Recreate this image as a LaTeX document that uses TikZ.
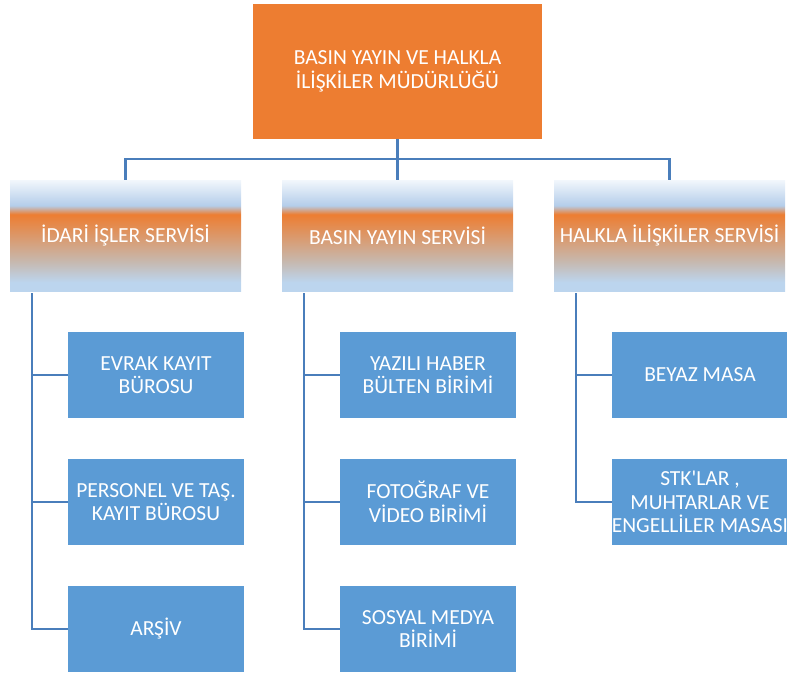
\documentclass[tikz,border=0pt]{standalone}
\usepackage{fontspec}
\setmainfont{Carlito}
\definecolor{topor}{HTML}{ED7D31}
\definecolor{chbl}{HTML}{5B9BD5}
\definecolor{lnbl}{HTML}{4A7EBB}
\definecolor{gtop}{HTML}{F2F7FC}
\definecolor{gblue}{HTML}{B4CDEA}
\definecolor{gtan}{HTML}{C6B9B0}
\definecolor{gbot}{HTML}{BCD5EE}
\pgfdeclareverticalshading{svcshade}{100bp}{color(0bp)=(gbot); color(25bp)=(gbot); color(29bp)=(gbot); color(38bp)=(gtan); color(59.5bp)=(topor); color(63.5bp)=(gblue); color(75bp)=(gtop); color(100bp)=(gtop)}
\tikzset{
  txt/.style={text=white, align=center, font=\fontsize{21.5}{23.5}\selectfont, inner sep=0pt},
  headbox/.style={txt, fill=topor, minimum width=289pt, minimum height=135pt},
  svcbox/.style={txt, shading=svcshade, minimum width=231pt, minimum height=111pt},
  childbox/.style={txt, fill=chbl, minimum width=176pt, minimum height=86pt},
  conn/.style={draw=lnbl, line width=2.5pt}
}
\begin{document}
\begin{tikzpicture}[x=1pt,y=-1pt]
\useasboundingbox (0,0) rectangle (787,672);
\node[headbox] (head) at (397.5,71.5) {BASIN YAYIN VE HALKLA\\İLİŞKİLER MÜDÜRLÜĞÜ};
\node[svcbox] (s1) at (125.5,235.5) {İDARİ İŞLER SERVİSİ};
\node[svcbox] (s2) at (397.5,235.5) {BASIN YAYIN SERVİSİ};
\node[svcbox] (s3) at (669.5,235.5) {HALKLA İLİŞKİLER SERVİSİ};
\node[childbox] (c11) at (156,375) {EVRAK KAYIT\\BÜROSU};
\node[childbox] (c12) at (156,502) {PERSONEL VE TAŞ.\\KAYIT BÜROSU};
\node[childbox] (c13) at (156,629) {ARŞİV};
\node[childbox] (c21) at (428,375) {YAZILI HABER\\BÜLTEN BİRİMİ};
\node[childbox] (c22) at (428,502) {FOTOĞRAF VE\\VİDEO BİRİMİ};
\node[childbox] (c23) at (428,629) {SOSYAL MEDYA\\BİRİMİ};
\node[childbox] (c31) at (700,375) {BEYAZ MASA};
\node[childbox] (c32) at (700,502) {STK\textquotesingle LAR ,\\MUHTARLAR VE\\ENGELLİLER MASASI};
\coordinate (bus) at (0,159);
\coordinate (t1) at (32,293);
\coordinate (t2) at (304,293);
\coordinate (t3) at (576,293);
\draw[conn] (head.south) -- (s2.north);
\draw[conn] (s1.north) -- (s1.north |- bus) -- (s3.north |- bus) -- (s3.north);
\draw[conn] (t1) |- (c13.west);
\draw[conn] (c11.west) -- (c11.west -| t1);
\draw[conn] (c12.west) -- (c12.west -| t1);
\draw[conn] (t2) |- (c23.west);
\draw[conn] (c21.west) -- (c21.west -| t2);
\draw[conn] (c22.west) -- (c22.west -| t2);
\draw[conn] (t3) |- (c32.west);
\draw[conn] (c31.west) -- (c31.west -| t3);
\end{tikzpicture}
\end{document}
